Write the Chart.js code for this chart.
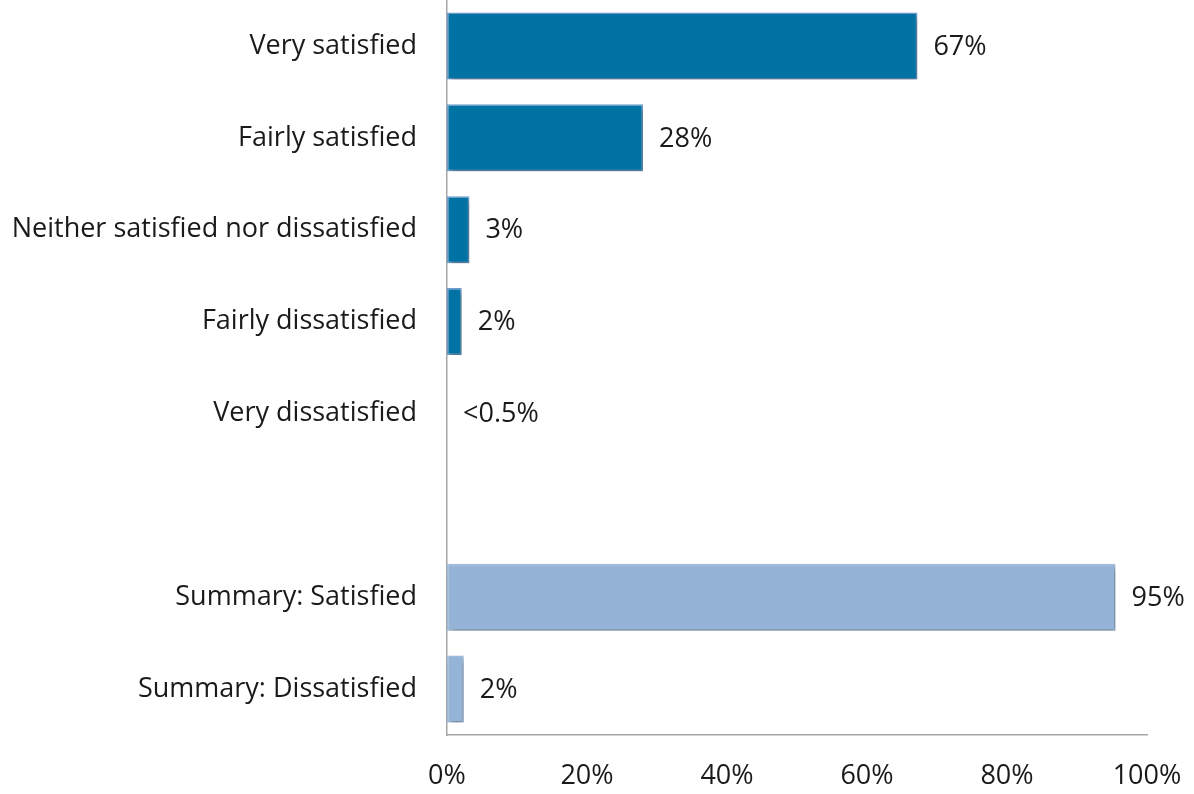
<!DOCTYPE html>
<html>
<head>
<meta charset="utf-8">
<script src="https://cdn.jsdelivr.net/npm/chart.js@4"></script>
<style>
html,body{margin:0;padding:0;background:#fff;}
#wrap{width:1194px;height:794px;}
</style>
</head>
<body>
<div id="wrap"><canvas id="c" width="1194" height="794"></canvas></div>
<script>
const categories = ["Very satisfied","Fairly satisfied","Neither satisfied nor dissatisfied","Fairly dissatisfied","Very dissatisfied","","Summary: Satisfied","Summary: Dissatisfied"];
const values = [67.2, 28, 3.2, 2.1, 0, null, 95.5, 2.4];
const valueLabels = ["67%","28%","3%","2%","<0.5%","","95%","2%"];
const xTicks = [0,20,40,60,80,100];

const FONT = '"Open Sans", Lato, sans-serif';
const FSIZE = 27;

const DARK = '#0072A3', LIGHT = '#95B3D7';
const barColors = categories.map((c,i)=> i>=6 ? LIGHT : DARK);
const borderColors = categories.map((c,i)=> i>=6 ? '#a3bedd' : '#6f9fcf');

const shadowPlugin = {
  id:'shadow',
  beforeDatasetDraw(chart){
    const ctx=chart.ctx; ctx.save();
    ctx.shadowColor='rgba(0,0,0,0.35)'; ctx.shadowBlur=5; ctx.shadowOffsetX=2; ctx.shadowOffsetY=3;
  },
  afterDatasetDraw(chart){ chart.ctx.restore(); }
};
const labelPlugin = {
  id:'vlabels',
  afterDatasetsDraw(chart){
    const ctx=chart.ctx; const meta=chart.getDatasetMeta(0);
    const xs=chart.scales.x;
    ctx.save();
    ctx.font=FSIZE+'px '+FONT; ctx.fillStyle='#1a1a1a'; ctx.textBaseline='middle'; ctx.textAlign='left';
    meta.data.forEach((el,i)=>{
      const t=valueLabels[i]; if(!t) return;
      const v=values[i]||0;
      const x=xs.getPixelForValue(v)+16;
      ctx.fillText(t,x,el.y+1);
    });
    ctx.restore();
  }
};

new Chart(document.getElementById('c'),{
  type:'bar',
  data:{labels:categories,datasets:[{data:values,backgroundColor:barColors,borderColor:borderColors,borderWidth:1.5,borderSkipped:false,barPercentage:0.73,categoryPercentage:1}]},
  options:{
    indexAxis:'y',responsive:false,animation:false,
    layout:{padding:{left:0,right:47,top:0,bottom:0}},
    plugins:{legend:{display:false},tooltip:{enabled:false}},
    scales:{
      x:{min:0,max:100,afterBuildTicks(s){s.ticks=xTicks.map(v=>({value:v}));},
         afterFit(s){s.height=59;s.paddingLeft=0;s.paddingRight=0;},
         grid:{display:false,drawTicks:false},
         border:{display:true,color:'#a6a6a6',width:1.5},
         ticks:{padding:25,color:'#1a1a1a',font:{family:FONT,size:FSIZE},callback:v=>v+'%',maxRotation:0}},
      y:{grid:{display:false,drawTicks:false},
         border:{display:true,color:'#a6a6a6',width:1.5},
         afterFit(s){s.width=447;s.paddingTop=0;s.paddingBottom=0;},
         ticks:{padding:30,color:'#1a1a1a',font:{family:FONT,size:FSIZE},autoSkip:false}}
    }
  },
  plugins:[shadowPlugin,labelPlugin]
});
</script>
</body>
</html>
